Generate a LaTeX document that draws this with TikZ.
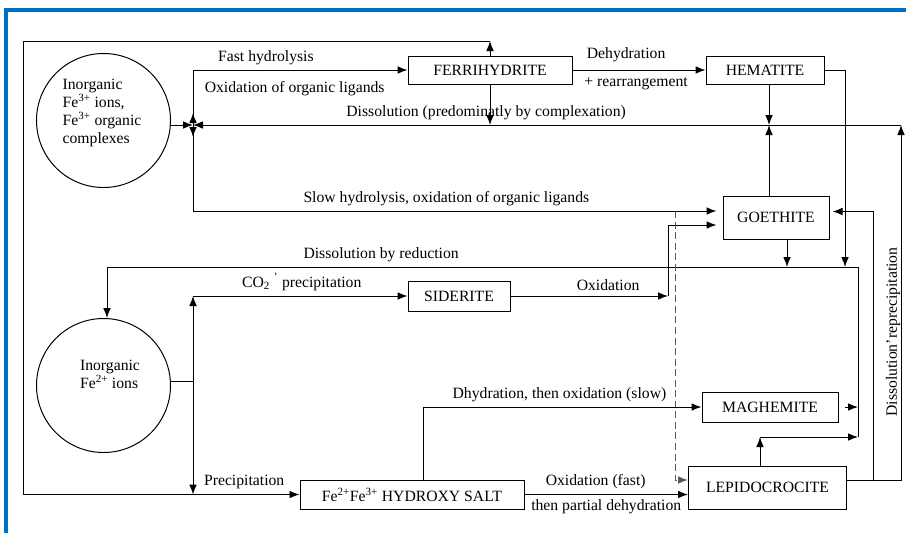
\documentclass[tikz,border=0pt]{standalone}
\usepackage{fontspec}
\setmainfont{Liberation Serif}
\usetikzlibrary{calc,arrows.meta,positioning}
\tikzset{>={Latex[length=3mm,width=2.3mm]}}
\definecolor{frameblue}{RGB}{0,112,192}

\begin{document}
\begin{tikzpicture}[x=0.03cm, y=-0.03cm, line width=0.85pt,
  font=\fontsize{13.4}{15.5}\selectfont,
  mineral/.style={draw, rectangle, inner sep=0pt},
  ionpool/.style={draw, circle, minimum size=4.02cm, inner sep=0pt}]
\useasboundingbox (0,0) rectangle (906,533);
\draw[frameblue, line width=2.8pt] (906,10) -- (6,10) -- (6,533);

% pools of dissolved iron
\node[ionpool] (fe3) at (103.5,120.5) {};
\node[align=left] (fe3txt) at (102,113) {Inorganic\\Fe\textsuperscript{3+} ions,\\Fe\textsuperscript{3+} organic\\complexes};
\node[ionpool] (fe2) at (103.5,385.5) {};
\node[align=left] (fe2txt) at (110,374) {Inorganic\\Fe\textsuperscript{2+} ions};

% minerals
\node[mineral, minimum width=4.92cm, minimum height=0.84cm] (ferri) at (490,70) {FERRIHYDRITE};
\node[mineral, minimum width=3.54cm, minimum height=0.84cm] (hem) at (765,70) {HEMATITE};
\node[mineral, minimum width=3.18cm, minimum height=1.29cm] (goe) at (776,217.5) {GOETHITE};
\node[mineral, minimum width=3.06cm, minimum height=0.9cm] (sid) at (459,296) {SIDERITE};
\node[mineral, minimum width=4.08cm, minimum height=0.9cm] (magh) at (770,407) {MAGHEMITE};
\node[mineral, minimum width=4.74cm, minimum height=1.29cm] (lepi) at (767.5,487.5) {LEPIDOCROCITE};
\node[mineral, minimum width=6.72cm, minimum height=0.87cm] (hyd) at (412,494.5) {Fe\textsuperscript{2+}Fe\textsuperscript{3+} HYDROXY SALT};

% corners of the connectors
\coordinate (j1) at (193,125);
\coordinate (tl) at (23,41);
\coordinate (bl) at (23,494.5);
\coordinate (dr) at (901,125);
\coordinate (hx) at (769,125);
\coordinate (hr) at (845,267);
\coordinate (gx) at (787,267);
\coordinate (rd) at (858,267);
\coordinate (rb) at (858,437);
\coordinate (rl) at (107,267);
\coordinate (lx) at (760,437);
\coordinate (j2) at (193,381);
\coordinate (sx) at (668,296);
\coordinate (dx) at (675,211);
\coordinate (rr) at (873,480);
\coordinate (hs) at (423,407);
\coordinate (le) at ($(lepi.east)+(0,-7.5)$);
\coordinate (lw) at ($(lepi.west)+(0,-7.5)$);

% Fe3+ side
\draw[->] (fe3.east |- j1) -- (j1);
\draw[->] (j1) -- ++(0,-12);
\draw[->] (j1) -- ++(0,12);
\draw[->] (j1) |- (ferri.west) node[pos=0.67, above=1pt] {Fast hydrolysis}
  node[pos=0.737, below=6pt] {Oxidation of organic ligands};
\draw[->] (j1) |- ($(goe.west)+(-6,-6.5)$)
  node[pos=0.742, above=1pt] {Slow hydrolysis, oxidation of organic ligands};
\draw[->] (ferri.east) -- (hem.west) node[midway, above=3pt, xshift=-11pt] {Dehydration}
  node[midway, below=3pt, xshift=-2.5pt] {+ rearrangement};
\draw[->] (ferri.north) -- (ferri.north |- tl);
\draw[->] (ferri.north |- tl) -- (tl) -- (bl) -- node[pos=0.8, above=1pt] {Precipitation} (hyd.west);
\draw[->] (ferri.south) -- (ferri.south |- j1);
\draw[->] (dr) -- (j1) node[pos=0.586, above=1pt] {Dissolution (predominatly by complexation)};
\draw[->] (le) -| (dr);
\draw[->] (le -| rr) |- ($(goe.east)+(3,-6)$);
\node[rotate=90, inner sep=0pt] (disrep) at (893,332) {Dissolution'reprecipitation};
\draw[->] (hem.south -| hx) -- (hx);
\draw[->] (goe.north -| hx) -- (hx);
\draw[->] (hem.east) -| (hr);
\draw[->] (goe.south -| gx) -- (gx);

% reduction back to Fe2+
\draw (rb) -- (rd);
\draw[->] (rd) -- node[pos=0.635, above=1pt] {Dissolution by reduction} (rl) -- (rl |- fe2.north);
\draw[->, shorten <=0.2cm] (magh.east) -- (magh.east -| rd);
\draw[->] (lepi.north -| lx) -- (lx);
\draw[->] (lx) -- (rb);

% Fe2+ side
\draw (fe2.east |- j2) -- (j2);
\draw[<->] (sid.west -| j2) -- (bl -| j2);
\draw[->] (sid.west -| j2) -- (sid.west) node[pos=0.507, above=1pt] {CO\textsubscript{2} \textsuperscript{'} precipitation};
\draw[->] (sid.east) -- (sx) node[pos=0.62, above=1pt] {Oxidation};
\draw[->] (sx) |- ($(goe.west)+(-6,7.5)$);
\draw[->, gray!70!black, dash pattern=on 6pt off 3pt] (dx) |- (lw);
\draw[->] (hyd.east) -- (lepi.west |- hyd.east) node[midway, above=1pt, xshift=-9pt] {Oxidation (fast)}
  node[midway, below=1pt] {then partial dehydration};
\draw[->] (hyd.north -| hs) |- (magh.west) node[pos=0.745, above=1pt] {Dhydration, then oxidation (slow)};
\end{tikzpicture}
\end{document}
